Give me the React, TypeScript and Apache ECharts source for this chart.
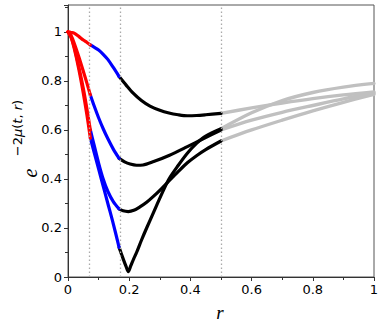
import { useEffect, useRef } from "react";
import * as echarts from "echarts";

// Vertical dotted dividers (r values)
const dividers = [0.073, 0.167, 0.5];

// Red segment (shared r grid)
const redR = [0, 0.01, 0.02, 0.035, 0.05, 0.062, 0.073];
const c1Red = [1, 0.998, 0.995, 0.982, 0.967, 0.957, 0.947];
const c2Red = [1, 0.985, 0.955, 0.9, 0.84, 0.79, 0.743];
const c3Red = [1, 0.98, 0.94, 0.86, 0.77, 0.685, 0.6];
const c4Red = [1, 0.978, 0.935, 0.85, 0.75, 0.66, 0.567];

// Blue segment (shared r grid)
const blueR = [0.073, 0.085, 0.1, 0.115, 0.13, 0.148, 0.167];
const c1Blue = [0.947, 0.938, 0.926, 0.909, 0.888, 0.855, 0.818];
const c2Blue = [0.743, 0.7, 0.65, 0.605, 0.565, 0.522, 0.484];
const c3Blue = [0.6, 0.54, 0.465, 0.4, 0.35, 0.308, 0.278];
const c4Blue = [0.567, 0.511, 0.441, 0.371, 0.301, 0.217, 0.121];

// Black segment
const c1BlackR = [0.167, 0.19, 0.213, 0.24, 0.268, 0.3, 0.33, 0.36, 0.39, 0.42, 0.45, 0.5];
const c1Black = [0.818, 0.783, 0.75, 0.72, 0.697, 0.68, 0.669, 0.662, 0.658, 0.659, 0.662, 0.668];
const c2BlackR = [0.167, 0.185, 0.203, 0.224, 0.245, 0.28, 0.33, 0.39, 0.44, 0.5];
const c2Black = [0.484, 0.47, 0.461, 0.456, 0.457, 0.471, 0.496, 0.532, 0.563, 0.6];
const c3BlackR = [0.167, 0.18, 0.197, 0.215, 0.235, 0.257, 0.28, 0.305, 0.333, 0.36, 0.39, 0.42, 0.45, 0.5];
const c3Black = [0.278, 0.27, 0.267, 0.272, 0.286, 0.305, 0.33, 0.36, 0.396, 0.43, 0.466, 0.495, 0.52, 0.555];
const c4BlackR = [0.167, 0.18, 0.19, 0.197, 0.205, 0.215, 0.224, 0.24, 0.257, 0.28, 0.305, 0.33, 0.36, 0.39, 0.42, 0.45, 0.5];
const c4Black = [0.121, 0.075, 0.042, 0.022, 0.045, 0.075, 0.1, 0.15, 0.2, 0.265, 0.335, 0.4, 0.455, 0.505, 0.545, 0.575, 0.605];

// Gray segment (shared r grid)
const grayR = [0.5, 0.6, 0.7, 0.8, 0.9, 1.0];
const c1Gray = [0.668, 0.69, 0.71, 0.728, 0.743, 0.755];
const c2Gray = [0.6, 0.64, 0.672, 0.7, 0.727, 0.75];
const c3Gray = [0.555, 0.6, 0.64, 0.678, 0.713, 0.745];
const c4Gray = [0.605, 0.67, 0.72, 0.753, 0.775, 0.79];

const zip = (xs: number[], ys: number[]) => xs.map((x, i) => [x, ys[i]]);

const curves = [
  { red: c1Red, blue: c1Blue, blackR: c1BlackR, black: c1Black, gray: c1Gray },
  { red: c2Red, blue: c2Blue, blackR: c2BlackR, black: c2Black, gray: c2Gray },
  { red: c3Red, blue: c3Blue, blackR: c3BlackR, black: c3Black, gray: c3Gray },
  { red: c4Red, blue: c4Blue, blackR: c4BlackR, black: c4Black, gray: c4Gray },
];

const seg = (data: number[][], color: string, width: number) => ({
  type: "line",
  data,
  showSymbol: false,
  smooth: 0.3,
  silent: true,
  lineStyle: { color, width, cap: "round", join: "round" },
});

export default function App() {
  const ref = useRef<HTMLDivElement>(null);
  useEffect(() => {
    const chart = echarts.init(ref.current!, null, { renderer: "svg" });
    const series: any[] = [];
    series.push({
      type: "line",
      data: [],
      silent: true,
      markLine: {
        silent: true,
        symbol: ["none", "none"],
        label: { show: false },
        lineStyle: { color: "#aaaaaa", width: 1.3, type: [1.5, 2.5] },
        data: dividers.map((d) => ({ xAxis: d })),
      },
    });
    curves.forEach((c) => series.push(seg(zip(grayR, c.gray), "#c0c0c0", 3.4)));
    curves.forEach((c) => series.push(seg(zip(c.blackR, c.black), "#000000", 3.2)));
    curves.forEach((c) => series.push(seg(zip(blueR, c.blue), "#0000ff", 3.2)));
    curves.forEach((c) => series.push(seg(zip(redR, c.red), "#ff0000", 3.2)));

    const labelFont = { fontFamily: "DejaVu Sans", fontSize: 13, color: "#000" };
    chart.setOption({
      animation: false,
      grid: {
        left: 68,
        right: 8,
        top: 5,
        bottom: 50,
        show: true,
        borderColor: "#555",
        borderWidth: 1,
        containLabel: false,
      },
      xAxis: {
        type: "value",
        min: 0,
        max: 1,
        interval: 0.2,
        axisLine: { show: true, onZero: false, lineStyle: { color: "#333", width: 1 } },
        axisTick: { show: true, length: 4, lineStyle: { color: "#333" } },
        minorTick: { show: true, splitNumber: 2, length: 3, lineStyle: { color: "#333" } },
        splitLine: { show: false },
        axisLabel: { ...labelFont, margin: 6 },
      },
      yAxis: {
        type: "value",
        min: 0,
        max: 1.11,
        interval: 0.2,
        axisLine: { show: true, onZero: false, lineStyle: { color: "#333", width: 1 } },
        axisTick: { show: true, length: 4, lineStyle: { color: "#333" } },
        minorTick: { show: true, splitNumber: 2, length: 3, lineStyle: { color: "#333" } },
        splitLine: { show: false },
        axisLabel: { ...labelFont, margin: 6, showMaxLabel: false },
      },
      graphic: [
        {
          type: "text",
          x: 220,
          y: 312,
          silent: true,
          style: {
            text: "r",
            font: "italic 19px 'Liberation Serif'",
            fill: "#000",
            align: "center",
            verticalAlign: "middle",
          },
        },
        {
          type: "text",
          x: 30,
          y: 173,
          rotation: Math.PI / 2,
          silent: true,
          style: {
            text: "e",
            font: "italic 20px 'Liberation Serif'",
            fill: "#000",
            align: "center",
            verticalAlign: "middle",
          },
        },
        {
          type: "text",
          x: 17,
          y: 128,
          rotation: Math.PI / 2,
          silent: true,
          style: {
            text: "{n|−2}{i|μ}{n|(}{i|t}{n|, }{i|r}{n|)}",
            align: "center",
            verticalAlign: "middle",
            rich: {
              n: { fontFamily: "DejaVu Sans", fontSize: 13, fill: "#000" },
              i: { fontFamily: "DejaVu Sans", fontStyle: "italic", fontSize: 13, fill: "#000" },
            },
          },
        },
      ],
      series,
    });
    return () => chart.dispose();
  }, []);
  return <div ref={ref} style={{ position: "absolute", left: 0, top: 0, width: 382, height: 327 }} />;
}
